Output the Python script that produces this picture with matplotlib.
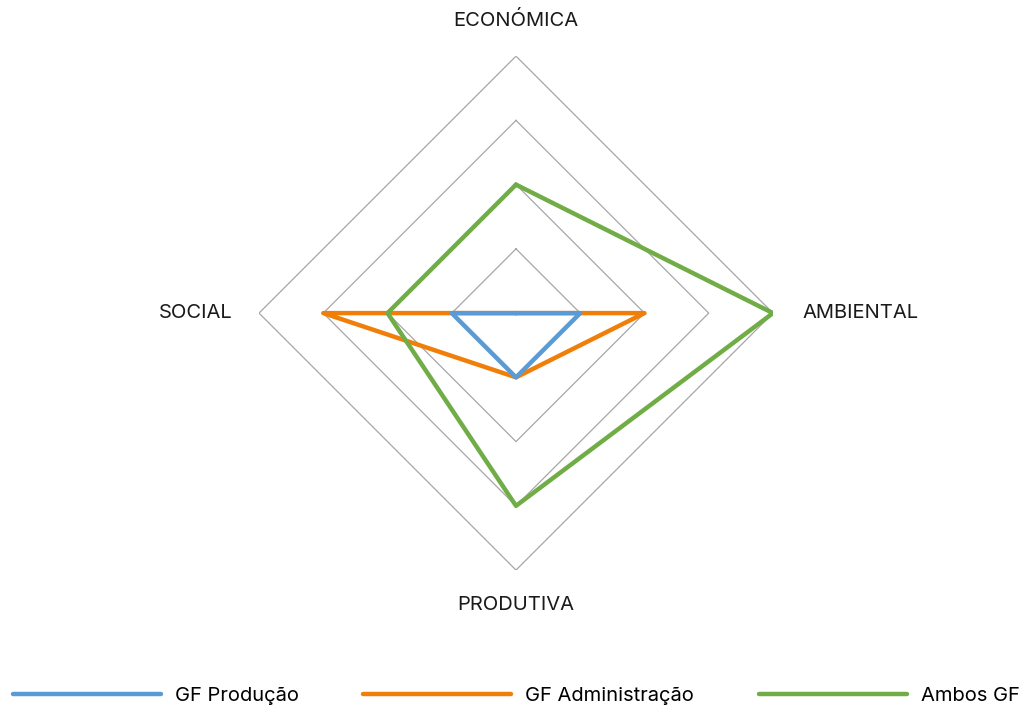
import numpy as np
import matplotlib
matplotlib.use("Agg")
import matplotlib.pyplot as plt
from matplotlib.lines import Line2D

plt.rcParams["font.family"] = ["Inter", "DejaVu Sans"]

# axes, clockwise starting at the top
categories = ["ECONÓMICA", "AMBIENTAL", "PRODUTIVA", "SOCIAL"]
series_names = ["GF Produção", "GF Administração", "Ambos GF"]
gf_producao = [0, 1, 1, 1]
gf_administracao = [0, 2, 1, 3]
ambos_gf = [2, 4, 3, 2]
grid_levels = [1, 2, 3, 4]

colors = ["#5b9bd5", "#f07f09", "#70ad47"]
zorders = [4, 3, 5]

fig = plt.figure(figsize=(10.32, 7.10), dpi=100)
ax = fig.add_axes([0.251, 0.197, 0.498, 0.724], projection="polar")
ax.set_theta_offset(np.pi / 2)
ax.set_theta_direction(-1)

theta = np.linspace(0, 2 * np.pi, len(categories), endpoint=False)
theta_closed = np.append(theta, theta[0])

for lvl in grid_levels:
    ax.plot(theta_closed, [lvl] * (len(categories) + 1), color="#a6a6a6",
            linewidth=0.9, zorder=1)

for name, vals, c, z in zip(series_names,
                            [gf_producao, gf_administracao, ambos_gf],
                            colors, zorders):
    v = np.append(vals, vals[0])
    ax.plot(theta_closed, v, color=c, linewidth=3.2, label=name, zorder=z,
            solid_joinstyle="round", solid_capstyle="round")

ax.set_ylim(0, max(grid_levels))
ax.set_xticks([])
ax.set_yticks([])
ax.grid(False)
ax.spines["polar"].set_visible(False)
ax.patch.set_visible(False)

# category labels outside the outer ring
offsets = [(0, 19, "center", "bottom"), (21, 0, "left", "center"),
           (0, -19, "center", "top"), (-19, 0, "right", "center")]
for t, lab, (dx, dy, ha, va) in zip(theta, categories, offsets):
    ax.annotate(lab, xy=(t, max(grid_levels)), xytext=(dx, dy),
                textcoords="offset points", ha=ha, va=va, fontsize=14.5,
                color="#1a1a1a")

handles = [Line2D([], [], color=c, linewidth=3.2, solid_capstyle="round")
           for c in colors]
fig.legend(handles, series_names, loc="lower center", ncol=3,
           bbox_to_anchor=(0.5, -0.018), frameon=False, fontsize=14.5,
           handlelength=7.35, handletextpad=0.7, columnspacing=3.2)

fig.savefig("out.png", dpi=100)
